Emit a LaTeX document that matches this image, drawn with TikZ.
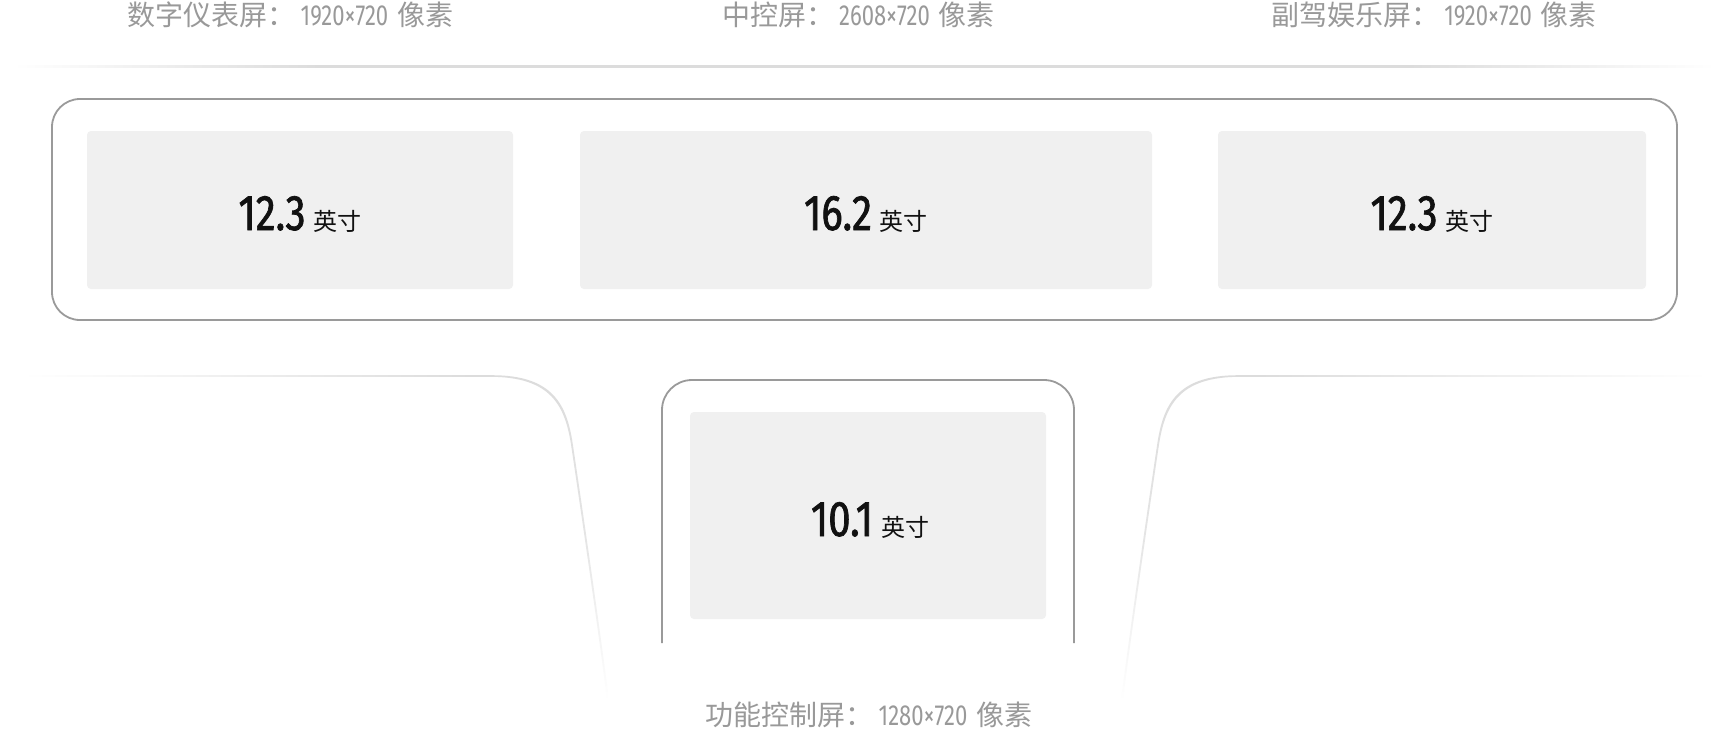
\documentclass[tikz,border=0pt]{standalone}
\usepackage{fontspec}
\newfontfamily\cjk{Noto Sans CJK SC}
\newfontfamily\numL[FakeStretch=0.76]{Fira Sans}
\newfontfamily\numB[FakeStretch=0.8, FakeBold=1.4]{Fira Sans}
\definecolor{lbl}{HTML}{999999}
\definecolor{framec}{HTML}{9A9A9A}
\definecolor{panel}{HTML}{F0F0F0}
\definecolor{lg}{HTML}{DCDCDC}
\definecolor{txt}{HTML}{111111}
\pgfdeclarehorizontalshading{toplineshade}{100bp}{color(0bp)=(white); color(25bp)=(white); color(34bp)=(lg); color(66bp)=(lg); color(75bp)=(white); color(100bp)=(white)}
\pgfdeclarehorizontalshading{sidelineL}{100bp}{color(0bp)=(white); color(25bp)=(white); color(75bp)=(lg); color(100bp)=(lg)}
\pgfdeclarehorizontalshading{sidelineR}{100bp}{color(0bp)=(lg); color(25bp)=(lg); color(75bp)=(white); color(100bp)=(white)}
\newcommand\fadecurve{%
  \shade[top color=lg, bottom color=white, middle color=lg!75]
    (470,375.2) -- (491.8,375.2) .. controls (552.8,375.2) and (566.8,404.2) .. (572.8,444.2)
    .. controls (578.8,484.2) and (600.8,634.2) .. (608.8,699.2)
    -- (607.2,700.8) .. controls (599.2,635.8) and (577.2,485.8) .. (571.2,445.8)
    .. controls (565.2,405.8) and (551.2,376.8) .. (490.2,376.8) -- (470,376.8) -- cycle;
}
\begin{document}
\begin{tikzpicture}[x=1pt,y=-1pt,
  lbltext/.style={anchor=base, text=lbl, inner sep=0pt, font=\cjk\fontsize{28}{28}\selectfont},
  panelbox/.style={fill=panel, rounded corners=4pt, draw=none, inner sep=0pt},
  sizetext/.style={anchor=base, inner sep=0pt, text=txt},
  frameline/.style={draw=framec, line width=1.8pt},
]
\useasboundingbox[fill=white] (0,0) rectangle (1728,732);

% top separator line
\shade[shading=toplineshade] (13,65.9) rectangle (1715,67.5);

% lower fading curves
\shade[shading=sidelineL] (22,375.2) rectangle (471,376.8);
\shade[shading=sidelineR] (1259,375.2) rectangle (1708,376.8);
\fadecurve
\begin{scope}[shift={(1730,0)}, xscale=-1]
  \fadecurve
\end{scope}

% outer frame of the three screens
\draw[frameline, rounded corners=28pt] (52,99) rectangle (1677,320);

% function screen frame (open at bottom)
\draw[frameline, rounded corners=30pt] (662,643) -- (662,380) -- (1074,380) -- (1074,643);

% panels
\node[panelbox, minimum width=426pt, minimum height=158pt] (p1) at (300,210) {};
\node[panelbox, minimum width=572pt, minimum height=158pt] (p2) at (866,210) {};
\node[panelbox, minimum width=428pt, minimum height=158pt] (p3) at (1432,210) {};
\node[panelbox, minimum width=356pt, minimum height=207pt] (p4) at (868,515.5) {};

% sizes
\newcommand\sz[1]{{\numB\fontsize{50}{50}\selectfont #1}\hspace{8pt}{\cjk\fontsize{24}{24}\selectfont 英寸}}
\node[sizetext] (t1) at (300,230) {\sz{12.3}};
\node[sizetext] (t2) at (866,230) {\sz{16.2}};
\node[sizetext] (t3) at (1432,230) {\sz{12.3}};
\node[sizetext] (t4) at (870,536) {\sz{10.1}};

% labels
\newcommand\res[1]{\hspace{5pt}{\numL\fontsize{29}{29}\selectfont #1}\hspace{9pt}}
\node[lbltext] (l1) at (290.5,25.5) {数字仪表屏：\res{1920×720}像素};
\node[lbltext] (l2) at (858.5,25.5) {中控屏：\res{2608×720}像素};
\node[lbltext] (l3) at (1434,25.5) {副驾娱乐屏：\res{1920×720}像素};
\node[lbltext] (l4) at (869,725) {功能控制屏：\res{1280×720}像素};
\end{tikzpicture}
\end{document}
